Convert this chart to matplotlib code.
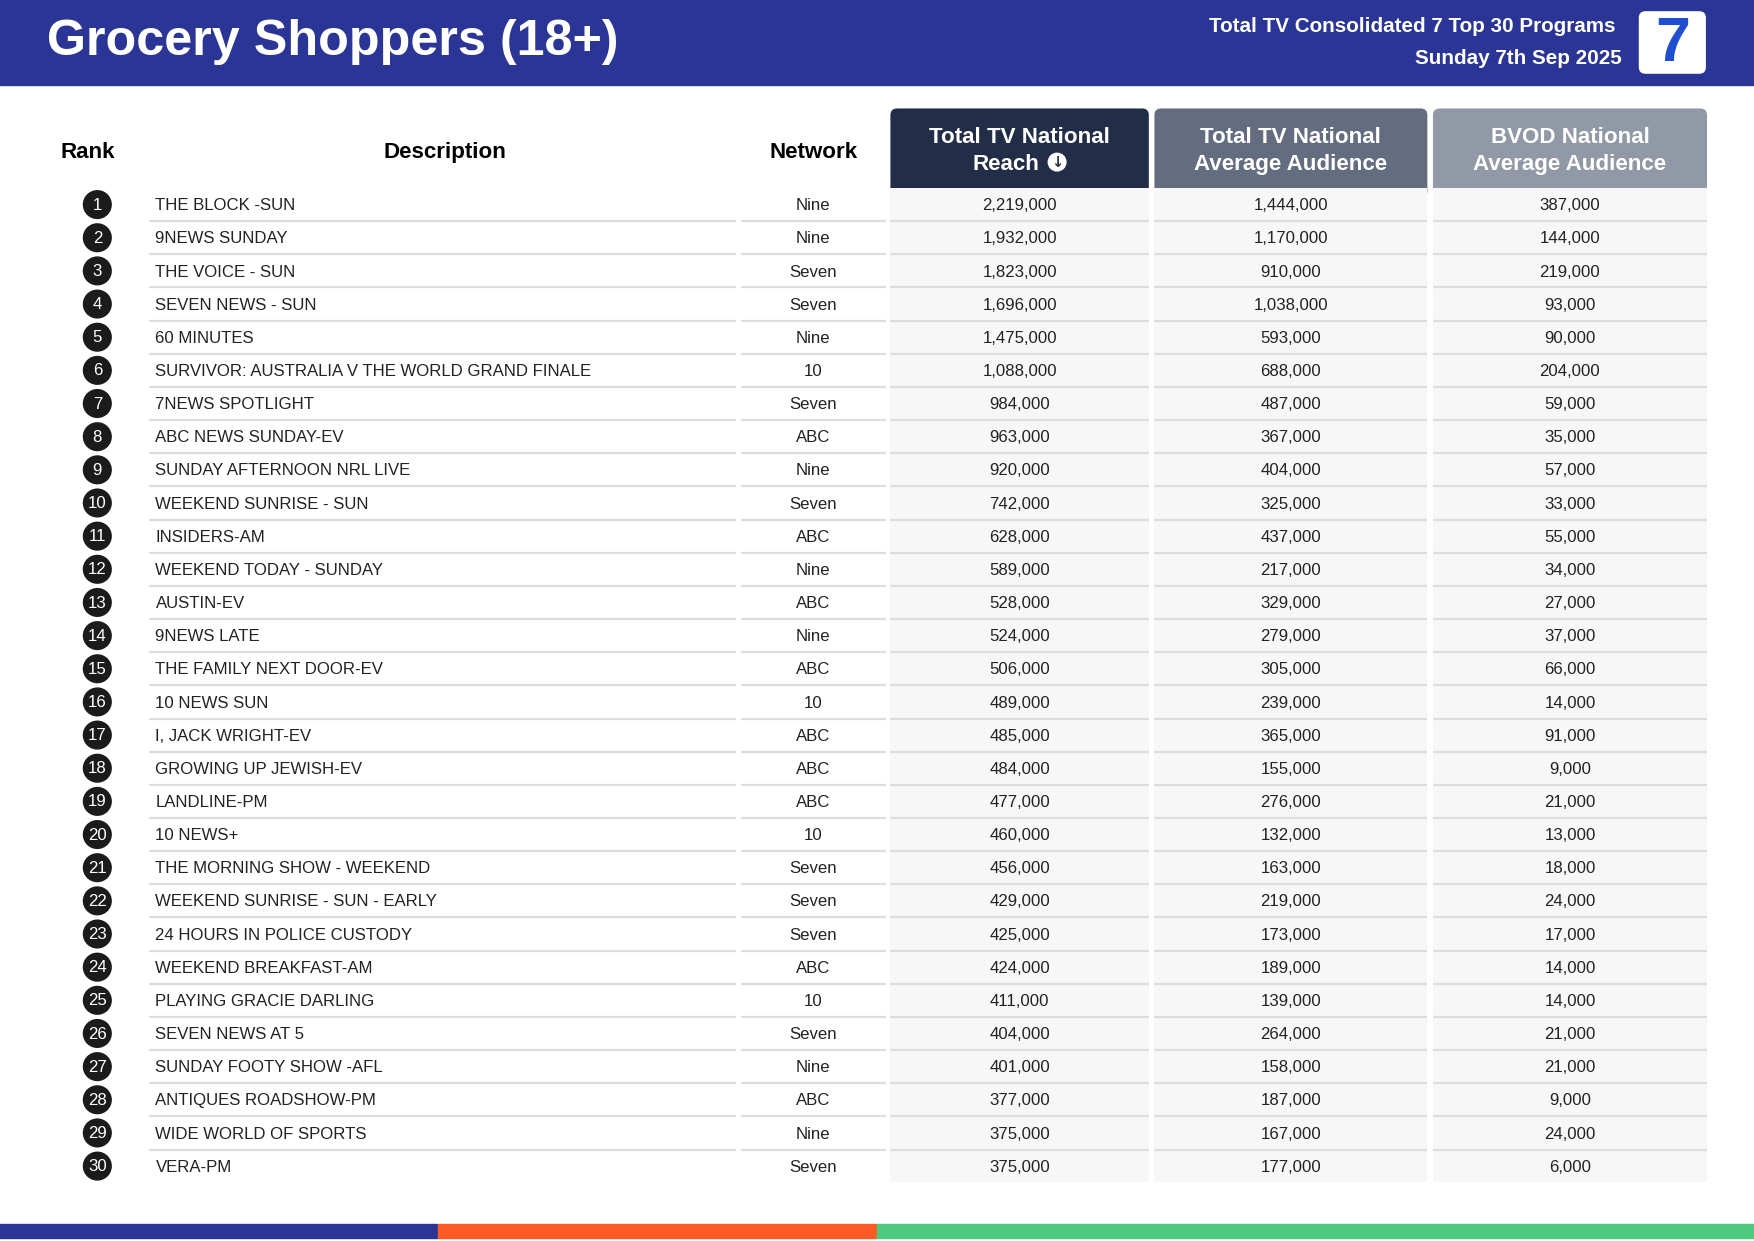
import matplotlib
matplotlib.use("Agg")
import matplotlib.pyplot as plt
from matplotlib.patches import Rectangle, FancyBboxPatch, Circle

# data
ranks = list(range(1, 31))
programs = [
    "THE BLOCK -SUN", "9NEWS SUNDAY", "THE VOICE - SUN", "SEVEN NEWS - SUN",
    "60 MINUTES", "SURVIVOR: AUSTRALIA V THE WORLD GRAND FINALE",
    "7NEWS SPOTLIGHT", "ABC NEWS SUNDAY-EV", "SUNDAY AFTERNOON NRL LIVE",
    "WEEKEND SUNRISE - SUN", "INSIDERS-AM", "WEEKEND TODAY - SUNDAY",
    "AUSTIN-EV", "9NEWS LATE", "THE FAMILY NEXT DOOR-EV", "10 NEWS SUN",
    "I, JACK WRIGHT-EV", "GROWING UP JEWISH-EV", "LANDLINE-PM", "10 NEWS+",
    "THE MORNING SHOW - WEEKEND", "WEEKEND SUNRISE - SUN - EARLY",
    "24 HOURS IN POLICE CUSTODY", "WEEKEND BREAKFAST-AM",
    "PLAYING GRACIE DARLING", "SEVEN NEWS AT 5", "SUNDAY FOOTY SHOW -AFL",
    "ANTIQUES ROADSHOW-PM", "WIDE WORLD OF SPORTS", "VERA-PM",
]
networks = [
    "Nine", "Nine", "Seven", "Seven", "Nine", "10", "Seven", "ABC", "Nine",
    "Seven", "ABC", "Nine", "ABC", "Nine", "ABC", "10", "ABC", "ABC", "ABC",
    "10", "Seven", "Seven", "Seven", "ABC", "10", "Seven", "Nine", "ABC",
    "Nine", "Seven",
]
reach = [2219000, 1932000, 1823000, 1696000, 1475000, 1088000, 984000, 963000,
         920000, 742000, 628000, 589000, 528000, 524000, 506000, 489000,
         485000, 484000, 477000, 460000, 456000, 429000, 425000, 424000,
         411000, 404000, 401000, 377000, 375000, 375000]
avg_aud = [1444000, 1170000, 910000, 1038000, 593000, 688000, 487000, 367000,
           404000, 325000, 437000, 217000, 329000, 279000, 305000, 239000,
           365000, 155000, 276000, 132000, 163000, 219000, 173000, 189000,
           139000, 264000, 158000, 187000, 167000, 177000]
bvod = [387000, 144000, 219000, 93000, 90000, 204000, 59000, 35000, 57000,
        33000, 55000, 34000, 27000, 37000, 66000, 14000, 91000, 9000, 21000,
        13000, 18000, 24000, 17000, 14000, 14000, 21000, 21000, 9000, 24000,
        6000]

W, H = 1568, 1110
fig = plt.figure(figsize=(17.54, 12.41), dpi=100)
ax = fig.add_axes([0, 0, 1, 1])
ax.set_xlim(0, W)
ax.set_ylim(H, 0)
ax.axis("off")
FONT = "Liberation Sans"
S = 0.805  # display px -> pt

# header band
ax.add_patch(Rectangle((0, 0), W, 76, color="#2B3595", zorder=1))
ax.text(42, 38, "Grocery Shoppers (18+)", color="white", fontsize=45 * S,
        fontweight="bold", family=FONT, va="center", ha="left")
ax.text(1444, 24, "Total TV Consolidated 7 Top 30 Programs", color="white",
        fontsize=18.5 * S, fontweight="bold", family=FONT, va="center", ha="right")
ax.text(1450, 52, "Sunday 7th Sep 2025", color="white", fontsize=18.5 * S,
        fontweight="bold", family=FONT, va="center", ha="right")
ax.add_patch(FancyBboxPatch((1468, 13), 54, 50, boxstyle="round,pad=3,rounding_size=6",
                            fc="white", ec="none", zorder=2))
ax.text(1495, 40, "7", color="#1F4FD0", fontsize=56 * S, fontweight="bold",
        family=FONT, ha="center", va="center", zorder=3)

# column geometry
desc_x0, desc_x1 = 133, 658
net_x0, net_x1 = 662, 792
cols = [(796, 1027, "#222D48", ("Total TV National", "Reach"), reach),
        (1032, 1276, "#646C80", ("Total TV National", "Average Audience"), avg_aud),
        (1281, 1526, "#9199A6", ("BVOD National", "Average Audience"), bvod)]
y0, step = 183, (1043 - 183) / 29
top, bottom = 168, 1057

for hdr, x in [("Rank", 78), ("Description", 398), ("Network", 727)]:
    ax.text(x, 136, hdr, fontsize=20 * S, fontweight="bold", family=FONT,
            ha="center", va="center", color="black")

for k, (x0, x1, c, label, vals) in enumerate(cols):
    ax.add_patch(FancyBboxPatch((x0, 97), x1 - x0, 80,
                                boxstyle="round,pad=0,rounding_size=6",
                                fc=c, ec="none", zorder=2))
    ax.add_patch(Rectangle((x0, top), x1 - x0, bottom - top, fc="#F7F7F7",
                           ec="none", zorder=3))
    cx = (x0 + x1) / 2
    ax.text(cx, 123, label[0], color="white", fontsize=20 * S,
            fontweight="bold", family=FONT, ha="center", va="center", zorder=4)
    ax.text(cx - (12 if k == 0 else 0), 147, label[1], color="white",
            fontsize=20 * S, fontweight="bold", family=FONT, ha="center",
            va="center", zorder=4)

# sort icon next to "Reach"
ax.add_patch(Circle((945, 145), 8.5, fc="white", ec="none", zorder=5))
ax.text(945, 145.5, "\u2193", color="#222D48", fontsize=13 * S,
        fontweight="bold", family="DejaVu Sans", ha="center", va="center", zorder=6)

for i, r in enumerate(ranks):
    y = y0 + i * step
    ax.add_patch(Circle((87, y), 13, fc="#1B1B1B", ec="none", zorder=4))
    ax.text(87, y + 0.5, str(r), color="white", fontsize=15 * S, family=FONT,
            ha="center", va="center", zorder=5)
    ax.text(139, y + 1, programs[i], fontsize=15 * S, family=FONT,
            ha="left", va="center", color="#222222", zorder=5)
    ax.text(727, y + 1, networks[i], fontsize=15 * S, family=FONT,
            ha="center", va="center", color="#222222", zorder=5)
    for x0, x1, c, label, vals in cols:
        ax.text((x0 + x1) / 2, y + 1, f"{vals[i]:,}", fontsize=15 * S,
                family=FONT, ha="center", va="center", color="#222222", zorder=5)
    if i < len(ranks) - 1:
        ly = y + step / 2
        for a, b in [(desc_x0, desc_x1), (net_x0, net_x1)] + [(c[0], c[1]) for c in cols]:
            ax.plot([a, b], [ly, ly], color="#DDDDDD", lw=1.6, zorder=4,
                    solid_capstyle="butt")

# bottom bar
ax.add_patch(Rectangle((0, 1095), 391, 12, color="#2B3595", zorder=1))
ax.add_patch(Rectangle((392, 1095), 391, 12, color="#FF5A26", zorder=1))
ax.add_patch(Rectangle((784, 1095), W - 784, 12, color="#4CCB7E", zorder=1))

fig.savefig("out.png", dpi=100)
